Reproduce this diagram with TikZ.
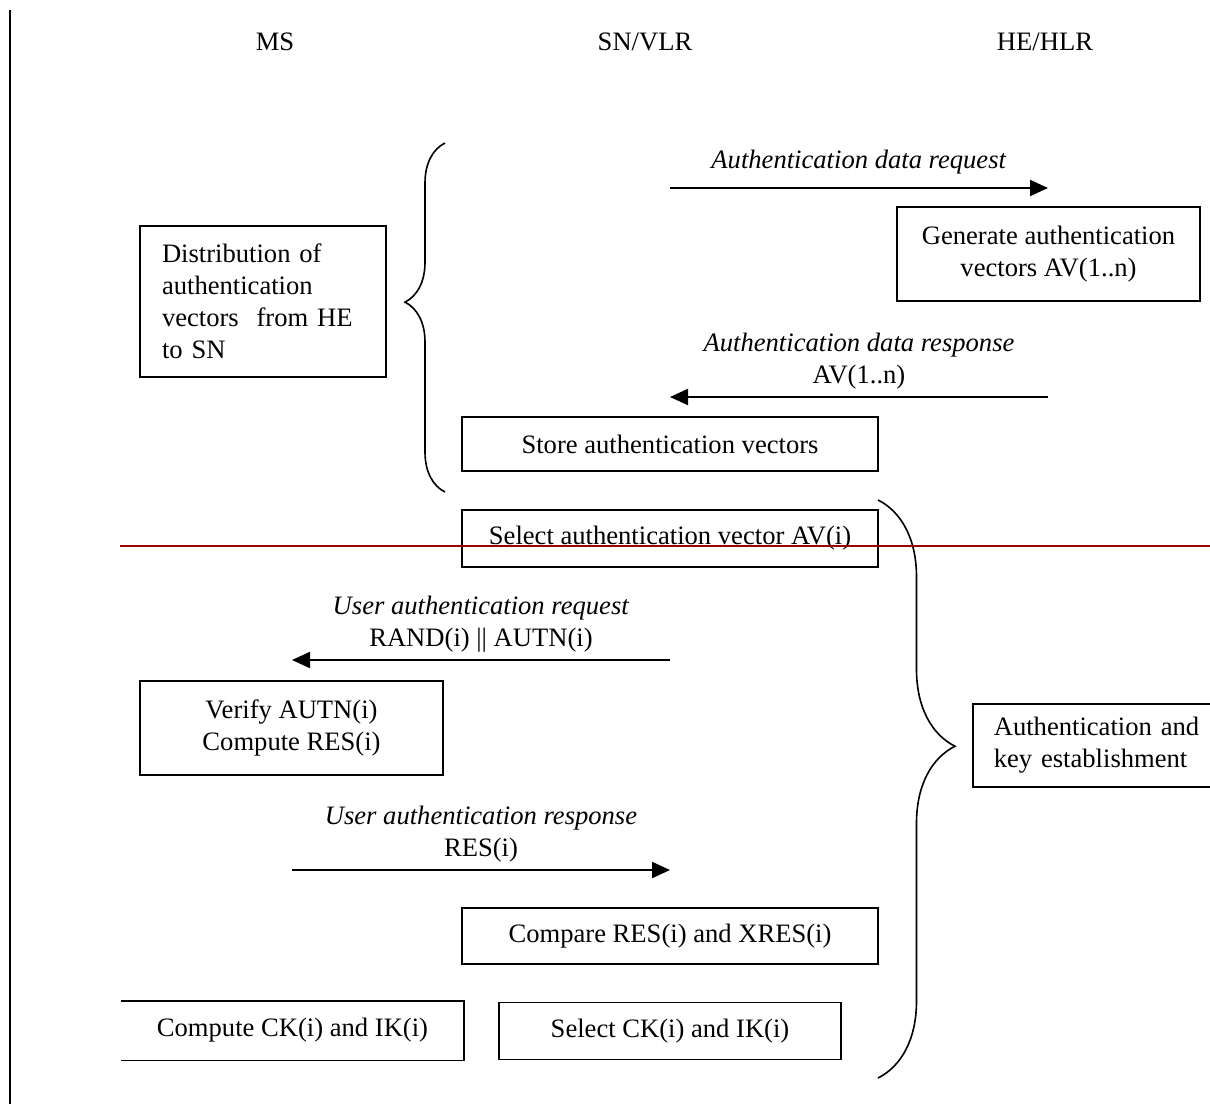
\documentclass[tikz,border=0pt]{standalone}
\usepackage{fontspec}
\setmainfont{Liberation Serif}
\usetikzlibrary{arrows.meta,decorations.pathreplacing}
\definecolor{divider}{HTML}{990000}

\begin{document}
\begin{tikzpicture}[x=0.5pt,y=-0.5pt,>={Triangle[length=9pt,width=8pt]}]
        \tikzstyle{box}=[rectangle, draw, line width=0.8pt, align=center, inner sep=0pt, font=\fontsize{13.3}{16}\selectfont]
        \tikzstyle{entity}=[font=\fontsize{13.3}{16}\selectfont]
        \tikzstyle{lbl}=[align=center, font=\fontsize{13.3}{16}\selectfont]
        \tikzstyle{msg}=[->, line width=1pt]
        \tikzstyle{grp}=[decorate, line width=0.8pt]
        \useasboundingbox (0,0) rectangle (1210,1104);
        \clip (0,0) rectangle (1210,1104);
        \draw[line width=1pt] (10,10) -- (10,1104);
        \node[entity] (ms) at (275,42) {MS};
        \node[entity] (sn) at (645,42) {SN/VLR};
        \node[entity] (he) at (1045,42) {HE/HLR};
        \node[box, align=left, text width=101pt, inner xsep=11pt, minimum height=75.5pt] (distrib) at (263,301.5) {Distribution of\\authentication\\vectors\ \ from HE\\to SN};
        \node[box, minimum width=151.5pt, minimum height=47pt] (generate) at (1048.5,254) {Generate authentication\\vectors AV(1..n)};
        \node[box, minimum width=208pt, minimum height=27pt] (store) at (670,444) {Store authentication vectors};
        \node[box, minimum width=208pt, minimum height=28.5pt] (selectav) at (670,538.5) {Select authentication vector AV(i)};
        \node[box, minimum width=151.5pt, minimum height=47pt] (verify) at (291.5,728) {Verify AUTN(i)\\Compute RES(i)};
        \node[box, minimum width=208pt, minimum height=28pt] (compare) at (670,936) {Compare RES(i) and XRES(i)};
        \node[box, draw=none, minimum width=170.5pt, minimum height=29pt] (computeck) at (292.5,1030.5) {Compute CK(i) and IK(i)};
        \draw[line width=0.8pt] (computeck.north west) -- (computeck.north east) -- (computeck.south east) -- (computeck.south west);
        \node[box, minimum width=171pt, minimum height=28.5pt] (selectck) at (670,1031) {Select CK(i) and IK(i)};
        \node[box, anchor=west, align=left, text width=108pt, inner xsep=10.5pt, minimum height=41.5pt] (akeyest) at (972,745.5) {Authentication and\\key establishment};
        \coordinate (snreq) at (670,188);
        \coordinate (hereq) at (1048,188);
        \coordinate (heresp) at (1048,397);
        \coordinate (snresp) at (670,397);
        \coordinate (snuser) at (670,660);
        \coordinate (msuser) at (292,660);
        \coordinate (msres) at (292,870);
        \coordinate (snres) at (670,870);
        \draw[msg] (snreq) -- (hereq) node[lbl, midway, above, yshift=3pt] {\textit{Authentication data request}};
        \draw[msg] (heresp) -- (snresp) node[lbl, midway, above] {\textit{Authentication data response}\\AV(1..n)};
        \draw[msg] (snuser) -- (msuser) node[lbl, midway, above] {\textit{User authentication request}\\RAND(i) || AUTN(i)};
        \draw[msg] (msres) -- (snres) node[lbl, midway, above] {\textit{User authentication response}\\RES(i)};
        \coordinate (distbot) at (445,492);
        \coordinate (disttop) at (445,143);
        \coordinate (akatop) at (878,500);
        \coordinate (akabot) at (878,1078);
        \draw[grp, decoration={brace, amplitude=20pt, aspect=0.544}] (distbot) -- (disttop);
        \draw[grp, decoration={brace, amplitude=38.5pt, aspect=0.426}] (akatop) -- (akabot);
        \draw[divider, line width=0.6pt] (120,546) -- (1210,546);
    \end{tikzpicture}
\end{document}
